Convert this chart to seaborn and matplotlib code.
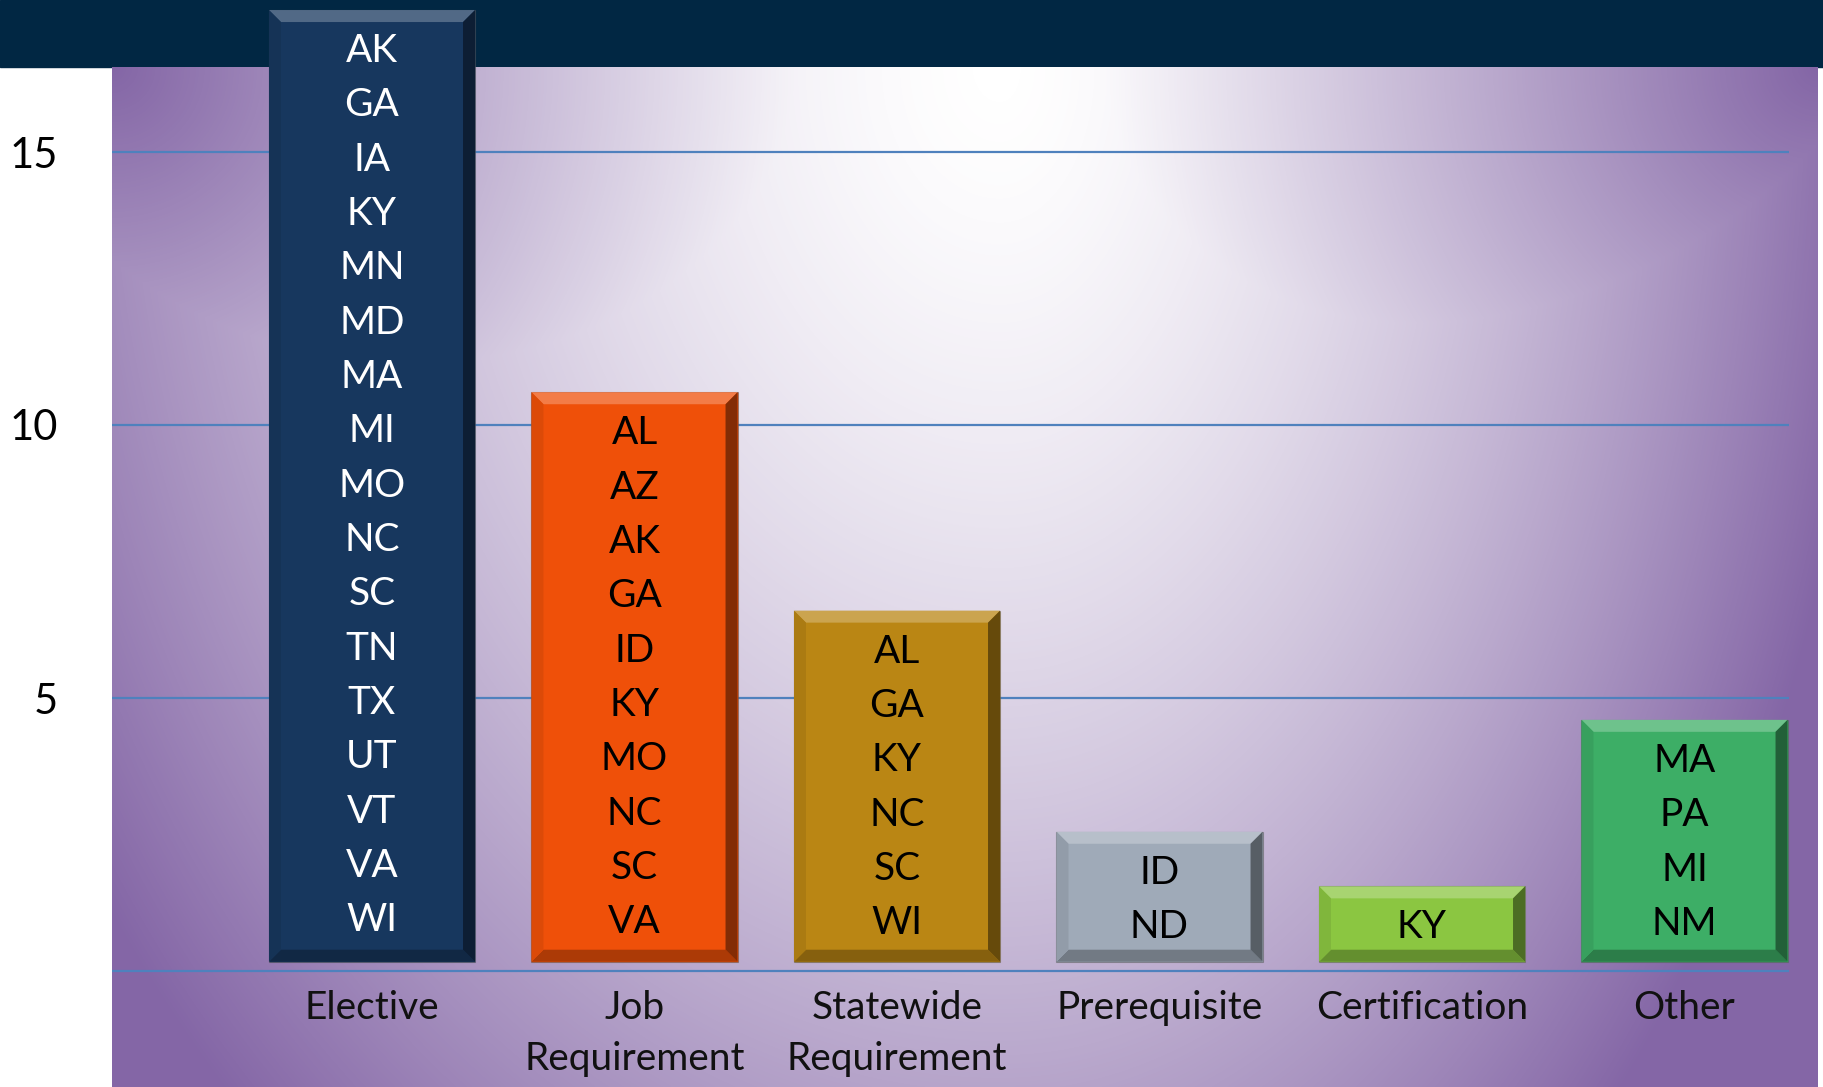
import numpy as np
import matplotlib
matplotlib.use("Agg")
import matplotlib.pyplot as plt
import seaborn as sns
from matplotlib.patches import Rectangle, Polygon
from matplotlib.colors import LinearSegmentedColormap, to_rgb

# --- data ---
categories = ["Elective", "Job\nRequirement", "Statewide\nRequirement",
              "Prerequisite", "Certification", "Other"]
bar_tops = [17.6, 10.6, 6.6, 2.55, 1.55, 4.6]
states = [
    ["AK", "GA", "IA", "KY", "MN", "MD", "MA", "MI", "MO", "NC", "SC", "TN",
     "TX", "UT", "VT", "VA", "WI"],
    ["AL", "AZ", "AK", "GA", "ID", "KY", "MO", "NC", "SC", "VA"],
    ["AL", "GA", "KY", "NC", "SC", "WI"],
    ["ID", "ND"],
    ["KY"],
    ["MA", "PA", "MI", "NM"],
]
y_ticks = [5, 10, 15]
bar_colors = ["#17375E", "#EF5009", "#BA8614", "#9FAAB8", "#8BC641", "#3DAE66"]
text_colors = ["white", "black", "black", "black", "black", "black"]

# --- layout (pixels of the 1824x1087 output) ---
W, H = 1824, 1087
ax_left_px, ax_right_px = 112, 1818
banner_px = 67
zero_px, unit_px = 971, 54.6          # row of value 0, pixels per unit
first_px, step_px = 372, 262.5        # centre of first bar, bar spacing
bar_base = 0.17

sns.set_theme(style="white")
plt.rcParams['font.family'] = ['Lato', 'DejaVu Sans']

fig = plt.figure(figsize=(W / 100, H / 100), dpi=100)
fig.patch.set_facecolor("white")

# dark banner across the top
fig.add_artist(Rectangle((0, 1 - banner_px / H), 1, banner_px / H,
                         transform=fig.transFigure, color="#012743", zorder=-5))

ax = fig.add_axes([ax_left_px / W, 0, (ax_right_px - ax_left_px) / W, 1])
ax.patch.set_visible(False)

ymax = zero_px / unit_px
ymin = -(H - zero_px) / unit_px
xmin = -(first_px - ax_left_px) / step_px
xmax = (ax_right_px - first_px) / step_px
y_area_top = ymax - banner_px / unit_px

# purple background gradient
xs = np.arange(ax_left_px, ax_right_px) + 0.5
ys = np.arange(banner_px, H) + 0.5
X, Y = np.meshgrid(xs, ys)
cx, cy = 1000, 67
rx = np.where(X < cx, 1100, 880)
d = np.sqrt(((X - cx) / rx) ** 2 + ((Y - cy) / 1450) ** 2)
t = np.clip(d, 0, 1) ** 1.5
for (qx, qy) in [(ax_left_px, banner_px), (ax_right_px, banner_px)]:
    dist = np.hypot(X - qx, Y - qy)
    t = np.maximum(t, 1 - 0.35 * dist / 260)
t = np.clip(t, 0, 1)
bg_cmap = LinearSegmentedColormap.from_list("bg", ["#FFFFFF", "#8466A6"])
ax.imshow(t, cmap=bg_cmap, vmin=0, vmax=1, aspect="auto", origin="upper",
          extent=(xmin, xmax, ymin, y_area_top), zorder=0, interpolation="bilinear")

# bars
sns.barplot(x=categories, y=bar_tops, hue=categories, palette=bar_colors,
            legend=False, saturation=1, width=0.785, ax=ax)
bars = list(ax.patches)
for p, top in zip(bars, bar_tops):
    p.set_y(bar_base)
    p.set_height(top - bar_base)
    p.set_zorder(2)
    p.set_edgecolor("#55555580")
    p.set_linewidth(0.8)


def mix(c, target, f):
    c = np.array(to_rgb(c))
    return tuple(c + (np.array(to_rgb(target)) - c) * f)


# bevel edges
bx, by = 12 / step_px, 12 / unit_px
for p, col in zip(bars, bar_colors):
    x0, y0 = p.get_x(), p.get_y()
    x1, y1 = x0 + p.get_width(), y0 + p.get_height()
    faces = [
        ([(x0, y1), (x1, y1), (x1 - bx, y1 - by), (x0 + bx, y1 - by)], mix(col, "white", 0.25)),
        ([(x0, y0), (x1, y0), (x1 - bx, y0 + by), (x0 + bx, y0 + by)], mix(col, "black", 0.28)),
        ([(x0, y0), (x0, y1), (x0 + bx, y1 - by), (x0 + bx, y0 + by)], mix(col, "black", 0.08)),
        ([(x1, y0), (x1, y1), (x1 - bx, y1 - by), (x1 - bx, y0 + by)], mix(col, "black", 0.45)),
    ]
    for pts, fc in faces:
        ax.add_patch(Polygon(pts, closed=True, facecolor=fc, edgecolor="none", zorder=3))

# gridlines
grid_end = (1789 - first_px) / step_px
ax.hlines([0] + y_ticks, xmin, grid_end, color="#4F81BD", lw=1.6, zorder=1)

# state names inside the bars
cap_half = 27.7 / 2 / unit_px
for p, top, names, tc in zip(bars, bar_tops, states, text_colors):
    xc = p.get_x() + p.get_width() / 2
    for k, nm in enumerate(names):
        yc = top - 0.7 - k * 0.995
        ax.text(xc, yc - cap_half, nm, ha="center", va="baseline",
                fontsize=28, color=tc, zorder=4)

ax.set_xlim(xmin, xmax)
ax.set_ylim(ymin, ymax)
ax.set_yticks(y_ticks)
ax.set_yticklabels([str(v) for v in y_ticks])
# category labels hang from the zero line
ax.spines["bottom"].set_position(("data", 0))
ax.tick_params(axis="y", length=0, pad=39, labelsize=30, labelcolor="black")
ax.tick_params(axis="x", length=0, pad=14, labelsize=28, labelcolor="#111111")
for lbl in ax.get_xticklabels():
    lbl.set_linespacing(1.5)
ax.set_xlabel("")
ax.set_ylabel("")
ax.grid(False)
for s in ax.spines.values():
    s.set_visible(False)

fig.savefig("out.png", dpi=100)
